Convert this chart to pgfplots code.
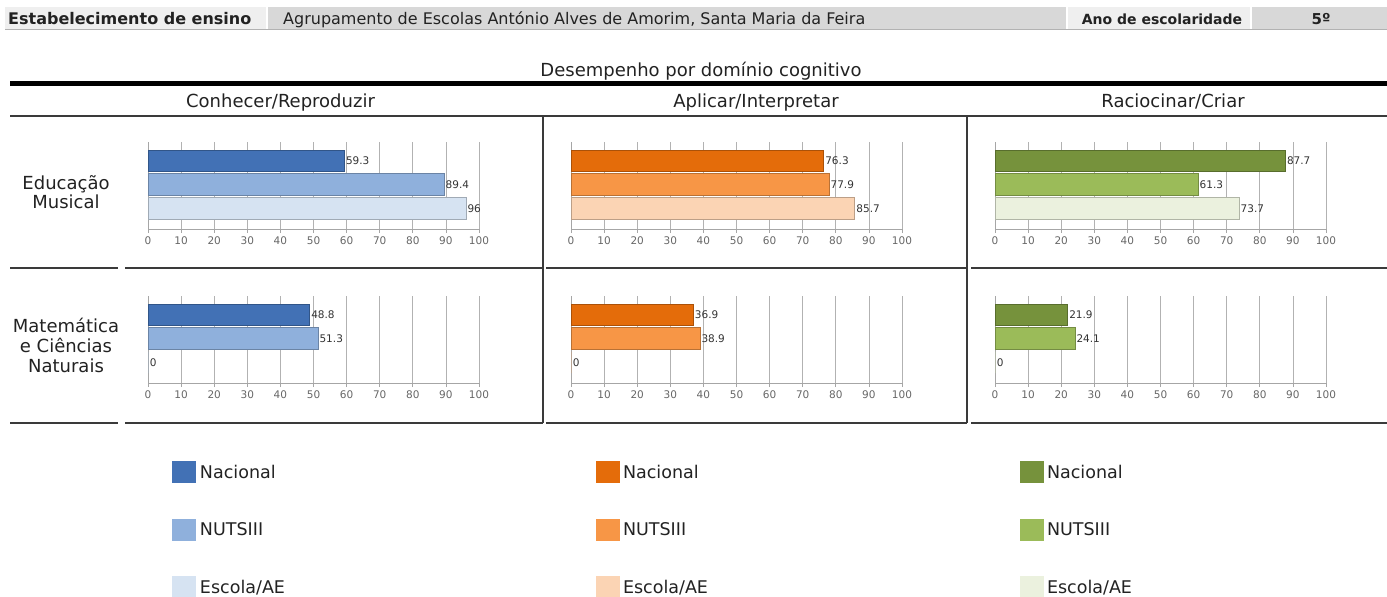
\documentclass[border=0pt]{standalone}
\usepackage{fontspec}
\setmainfont{DejaVu Sans}
\usepackage{pgfplots}
\pgfplotsset{compat=1.18}
\definecolor{blueA}{HTML}{4271B5}
\definecolor{blueB}{HTML}{8FB0DC}
\definecolor{blueC}{HTML}{D6E3F2}
\definecolor{orangeA}{HTML}{E46C0A}
\definecolor{orangeB}{HTML}{F79646}
\definecolor{orangeC}{HTML}{FBD4B4}
\definecolor{greenA}{HTML}{76923C}
\definecolor{greenB}{HTML}{9BBB59}
\definecolor{greenC}{HTML}{EBF1DE}
\definecolor{hdrlight}{HTML}{EFEFEF}
\definecolor{hdrdark}{HTML}{D8D8D8}
\definecolor{linecol}{HTML}{3A3A3A}
\definecolor{txt}{HTML}{222222}
\newcommand{\fs}[1]{\fontsize{#1}{#1}\selectfont}
\pgfplotsset{
  b/.style={fill=#1, draw=#1!75!black, line width=0.5pt, bar shift=0pt},
  panel/.style={
    scale only axis, width=331pt, height=87pt, anchor=south west,
    xmin=0, xmax=100, ymin=0.134, ymax=3.78,
    xtick={0,10,...,100}, ytick=\empty,
    axis x line*=bottom, axis y line*=left,
    axis line style={draw=gray!70, line width=0.8pt},
    xmajorgrids, grid style={gray!60, line width=0.8pt},
    tick style={gray!70, line width=0.8pt}, tick align=outside, major tick length=4pt,
    tick label style={font=\fs{10.5}, text=gray!80!black},
    /pgf/number format/assume math mode=true,
    xbar, bar width=0.9,
    nodes near coords,
    nodes near coords style={font=\fs{10.5}, text=black!80, anchor=west, inner sep=1.5pt},
    legend image code/.code={\path[#1,draw=none] (0pt,-11pt) rectangle (24pt,11pt);},
    legend style={draw=none, fill=none, at={(axis description cs:0.074,-0.90)}, anchor=north west,
      inner sep=0pt, outer sep=0pt, row sep=35.5pt,
      nodes={inner sep=3.5pt, font=\fs{17.5}, text=txt}},
    legend cell align=left,
  }
}
\begin{document}
\begin{tikzpicture}
% ---------- row 1 ----------
\begin{axis}[panel, at={(148pt,-229pt)}]
\addplot[b=blueA] coordinates {(59.3,3)};
\addplot[b=blueB] coordinates {(89.4,2)};
\addplot[b=blueC] coordinates {(96,1)};
\end{axis}
\begin{axis}[panel, at={(571pt,-229pt)}]
\addplot[b=orangeA] coordinates {(76.3,3)};
\addplot[b=orangeB] coordinates {(77.9,2)};
\addplot[b=orangeC] coordinates {(85.7,1)};
\end{axis}
\begin{axis}[panel, at={(995pt,-229pt)}]
\addplot[b=greenA] coordinates {(87.7,3)};
\addplot[b=greenB] coordinates {(61.3,2)};
\addplot[b=greenC] coordinates {(73.7,1)};
\end{axis}
% ---------- row 2 ----------
\begin{axis}[panel, at={(148pt,-383pt)}]
\addplot[b=blueA] coordinates {(48.8,3)};
\addplot[b=blueB] coordinates {(51.3,2)};
\addplot[b=blueC] coordinates {(0,1)};
\legend{Nacional,NUTSIII,Escola/AE}
\end{axis}
\begin{axis}[panel, at={(571pt,-383pt)}]
\addplot[b=orangeA] coordinates {(36.9,3)};
\addplot[b=orangeB] coordinates {(38.9,2)};
\addplot[b=orangeC] coordinates {(0,1)};
\legend{Nacional,NUTSIII,Escola/AE}
\end{axis}
\begin{axis}[panel, at={(995pt,-383pt)}]
\addplot[b=greenA] coordinates {(21.9,3)};
\addplot[b=greenB] coordinates {(24.1,2)};
\addplot[b=greenC] coordinates {(0,1)};
\legend{Nacional,NUTSIII,Escola/AE}
\end{axis}
% ---------- table frame ----------
\begin{scope}[x=1pt,y=-1pt]
\fill[hdrlight] (5,7) rectangle (266,29);
\fill[hdrdark] (268,7) rectangle (1066,29);
\fill[hdrlight] (1068,7) rectangle (1250,29);
\fill[hdrdark] (1252,7) rectangle (1387,29);
\draw[gray!60, line width=1pt] (5,29.5) -- (1387,29.5);
\node[anchor=base west, font=\bfseries\fs{16}, text=txt, inner sep=0pt] at (8,24) {Estabelecimento de ensino};
\node[anchor=base west, font=\fs{16}, text=txt, inner sep=0pt] at (283,24) {Agrupamento de Escolas António Alves de Amorim, Santa Maria da Feira};
\node[anchor=base, font=\bfseries\fs{14}, text=txt, inner sep=0pt] at (1162,24) {Ano de escolaridade};
\node[anchor=base, font=\bfseries\fs{15}, text=txt, inner sep=0pt] at (1321,24) {5º};
\node[anchor=base, font=\fs{18}, text=txt, inner sep=0pt] at (701,76) {Desempenho por domínio cognitivo};
\draw[black, line width=5pt] (10,83.5) -- (1387,83.5);
\node[anchor=base, font=\fs{18}, text=txt, inner sep=0pt] at (280.5,107) {Conhecer/Reproduzir};
\node[anchor=base, font=\fs{18}, text=txt, inner sep=0pt] at (756,107) {Aplicar/Interpretar};
\node[anchor=base, font=\fs{18}, text=txt, inner sep=0pt] at (1173,107) {Raciocinar/Criar};
\draw[linecol, line width=2.5pt] (10,116) -- (1387,116);
\draw[linecol, line width=2.5pt] (543,116) -- (543,423);
\draw[linecol, line width=2.5pt] (967,116) -- (967,423);
\foreach \yy in {268,423}{
  \draw[linecol, line width=2.5pt] (10,\yy) -- (118,\yy);
  \draw[linecol, line width=2.5pt] (125,\yy) -- (543,\yy);
  \draw[linecol, line width=2.5pt] (546,\yy) -- (967,\yy);
  \draw[linecol, line width=2.5pt] (971,\yy) -- (1387,\yy);
}
\node[align=center, font=\fs{18}, text=txt, inner sep=0pt] at (66,192) {Educação\\[1pt]Musical};
\node[align=center, font=\fs{18}, text=txt, inner sep=0pt] at (66,345) {Matemática\\[2pt]e Ciências\\[2pt]Naturais};
\end{scope}
\pgfresetboundingbox
\path[use as bounding box] (0pt,0pt) rectangle (1387pt,-597pt);
\end{tikzpicture}
\end{document}
